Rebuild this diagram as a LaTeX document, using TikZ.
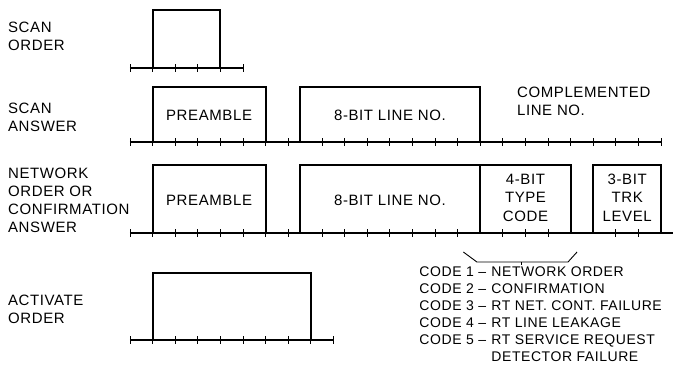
\documentclass[tikz,border=0pt]{standalone}
\usepackage{fontspec}
\setmainfont[LetterSpace=4]{Liberation Sans}
\usetikzlibrary{positioning}
\newcommand{\codetag}[1]{\makebox[72pt][l]{CODE #1 --}}

\begin{document}
\begin{tikzpicture}[x=22.6pt, y=-1pt,
    timeline/.style={line width=1.2pt},
    bittick/.style={line width=0.9pt},
    pulse/.style={line width=2pt, line join=miter},
    rowlabel/.style={anchor=west, align=left, inner sep=0pt,
                     font=\fontsize{15}{18}\selectfont},
    fieldtext/.style={align=center, inner sep=0pt,
                      font=\fontsize{15}{18.5}\selectfont}]
    \useasboundingbox (-5.752,0) rectangle (24.159,378);

    % Row labels
    \node[rowlabel] (scanorder) at (-5.4,36) {SCAN\\ORDER};
    \node[rowlabel] (scananswer) at (-5.4,117.5) {SCAN\\ANSWER};
    \node[rowlabel] (netorder) at (-5.4,200.5) {NETWORK\\ORDER OR\\CONFIRMATION\\ANSWER};
    \node[rowlabel] (activate) at (-5.4,309) {ACTIVATE\\ORDER};

    % Scan order
    \draw[timeline] (0,68) -- (5,68);
    \foreach \t in {0,...,5}
        \draw[bittick] (\t,64) -- (\t,72);
    \draw[pulse] (1,68) -- (1,10) -- (4,10) -- (4,68);

    % Scan answer
    \draw[timeline] (0,142) -- (23.5,142);
    \foreach \t in {0,...,7}
        \draw[bittick] (\t,138) -- (\t,146);
    \foreach \t in {8.5,9.5,...,23.5}
        \draw[bittick] (\t,138) -- (\t,146);
    \draw[pulse] (1,142) -- (1,87) -- (6,87) -- (6,142);
    \draw[pulse] (7.5,142) -- (7.5,87) -- (15.5,87) -- (15.5,142);
    \node[fieldtext] (sapre) at (3.5,115) {PREAMBLE};
    \node[fieldtext] (saline) at (11.5,115) {8-BIT LINE NO.};
    \node[fieldtext, anchor=west, align=left] (sacompl) at (17.12,101.5) {COMPLEMENTED\\LINE NO.};

    % Network order or confirmation answer
    \draw[timeline] (0,233) -- (24.03,233);
    \foreach \t in {0,...,7}
        \draw[bittick] (\t,229) -- (\t,237);
    \foreach \t in {8.5,9.5,...,14.5,16.5,17.5,18.5,21.5,22.5}
        \draw[bittick] (\t,229) -- (\t,237);
    \draw[pulse] (1,233) -- (1,165) -- (6,165) -- (6,233);
    \draw[pulse] (7.5,233) -- (7.5,165) -- (19.5,165) -- (19.5,233);
    \draw[pulse] (15.5,165) -- (15.5,233);
    \draw[pulse] (20.5,233) -- (20.5,165) -- (23.5,165) -- (23.5,233);
    \node[fieldtext] (nopre) at (3.5,200) {PREAMBLE};
    \node[fieldtext] (noline) at (11.5,200) {8-BIT LINE NO.};
    \node[fieldtext] (notype) at (17.5,197.5) {4-BIT\\TYPE\\CODE};
    \node[fieldtext] (notrk) at (22,197.5) {3-BIT\\TRK\\LEVEL};

    % Bracket under type code
    \draw[bittick] (14.75,252) -- (15.35,262) -- (19.38,262) -- (19.78,252);
    \coordinate (brace) at (17.3,262);
    \draw[bittick] (brace) -- ++(0,3);

    % Type code list
    \node[anchor=base west, inner sep=0pt, font=\fontsize{14}{17}\selectfont]
        (codes) at (12.8,276.5) {\begin{tabular}[t]{@{}l@{}l@{}}
            \codetag{1} & NETWORK ORDER\\
            \codetag{2} & CONFIRMATION\\
            \codetag{3} & RT NET. CONT. FAILURE\\
            \codetag{4} & RT LINE LEAKAGE\\
            \codetag{5} & RT SERVICE REQUEST\\
                        & DETECTOR FAILURE
        \end{tabular}};

    % Activate order
    \draw[timeline] (0,340) -- (9,340);
    \foreach \t in {0,...,9}
        \draw[bittick] (\t,336) -- (\t,344);
    \draw[pulse] (1,340) -- (1,273) -- (8,273) -- (8,340);
\end{tikzpicture}
\end{document}
